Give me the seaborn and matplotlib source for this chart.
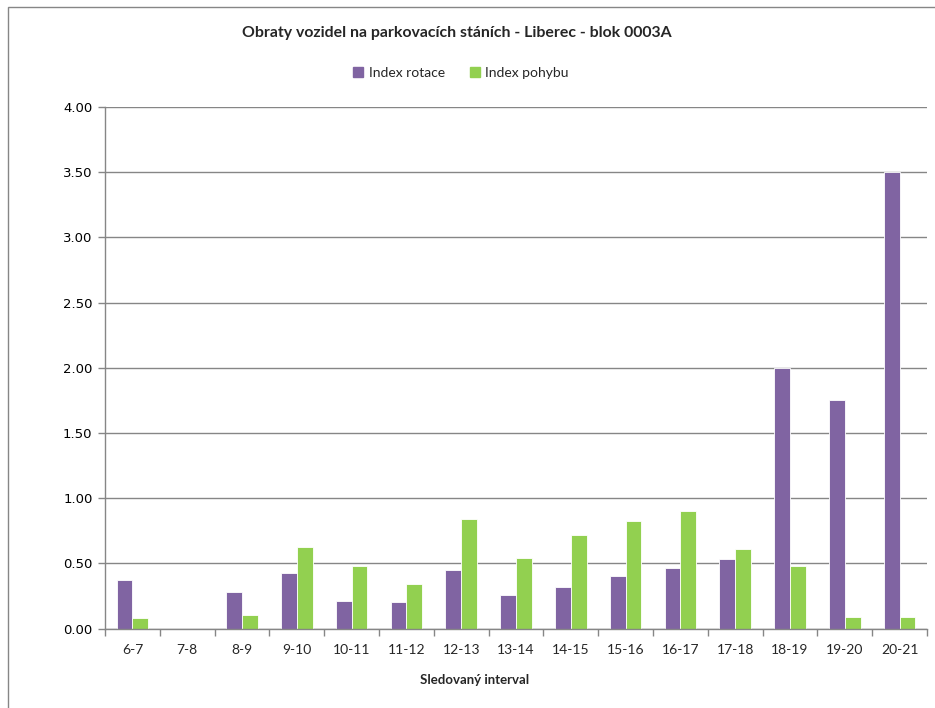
import matplotlib
matplotlib.use("Agg")
import matplotlib.pyplot as plt
import seaborn as sns
import pandas as pd
from matplotlib.patches import Rectangle

categories = ["6-7", "7-8", "8-9", "9-10", "10-11", "11-12", "12-13", "13-14",
              "14-15", "15-16", "16-17", "17-18", "18-19", "19-20", "20-21"]
index_rotace = [0.372, 0.0, 0.282, 0.423, 0.213, 0.203, 0.449, 0.256,
                0.321, 0.400, 0.462, 0.531, 2.00, 1.75, 3.50]
index_pohybu = [0.077, 0.0, 0.103, 0.623, 0.477, 0.341, 0.838, 0.544,
                0.718, 0.826, 0.905, 0.610, 0.477, 0.087, 0.087]
series_names = ["Index rotace", "Index pohybu"]
colors = ["#8064A2", "#92D050"]
yticks = [0, 0.5, 1.0, 1.5, 2.0, 2.5, 3.0, 3.5, 4.0]

df = pd.DataFrame({
    "interval": categories * 2,
    "value": index_rotace + index_pohybu,
    "series": [series_names[0]] * len(categories) + [series_names[1]] * len(categories),
})

sns.set_theme(style="white")
plt.rcParams["font.family"] = ["DejaVu Sans"]

fig = plt.figure(figsize=(9.35, 7.08), dpi=100)
ax = fig.add_axes([105 / 935, 1 - 628.5 / 708, (927 - 105) / 935, (628.5 - 107) / 708])

sns.barplot(data=df, x="interval", y="value", hue="series", order=categories,
            hue_order=series_names, palette=colors, width=0.58, gap=0.0,
            saturation=1, edgecolor="white", linewidth=0.6, ax=ax, legend=False)

ax.set_ylim(0, 4.0)
ax.set_xlim(-0.5, len(categories) - 0.5)
ax.set_yticks(yticks)
ax.set_yticklabels([f"{v:.2f}" for v in yticks], fontsize=9.5, color="#000000")
ax.yaxis.grid(True, color="#868686", linewidth=1.0)
ax.set_axisbelow(True)
ax.set_xticks(range(len(categories)))
ax.set_xticklabels(categories, fontsize=10, family="Lato")
ax.tick_params(axis="x", length=0, pad=11)
ax.tick_params(axis="y", length=5, color="#868686", left=True, width=1.0, pad=4)
# minor ticks between categories
ax.set_xticks([i - 0.5 for i in range(len(categories) + 1)], minor=True)
ax.tick_params(axis="x", which="minor", length=5, color="#868686", bottom=True, width=1.0)

for s in ["top", "right"]:
    ax.spines[s].set_visible(False)
for s in ["left", "bottom"]:
    ax.spines[s].set_color("#868686")
    ax.spines[s].set_linewidth(1.0)
ax.set_xlabel("")
ax.set_ylabel("")

fig.text(457 / 935, 1 - 33 / 708, "Obraty vozidel na parkovacích stáních - Liberec - blok 0003A",
         ha="center", va="center", fontsize=11.4, fontweight="bold", family="Lato")
fig.text(475 / 935, 1 - 680 / 708, "Sledovaný interval", ha="center", va="center",
         fontsize=9.5, fontweight="bold", family="Lato")

# legend
handles = [Rectangle((0, 0), 1, 1, color=c) for c in colors]
fig.legend(handles, series_names, loc="center", bbox_to_anchor=(461 / 935, 1 - 73 / 708),
           ncol=2, frameon=False, handlelength=0.7, handleheight=0.7,
           columnspacing=1.8, handletextpad=0.4, prop={"family": "Lato", "size": 10})

# chart border (extends past right and bottom image edges)
fig.patches.append(Rectangle((8 / 935, -0.05), 1.0, 1 - 7 / 708 + 0.05,
                             transform=fig.transFigure, fill=False, clip_on=False,
                             edgecolor="#868686", linewidth=1.0))

fig.savefig("out.png", dpi=100)
